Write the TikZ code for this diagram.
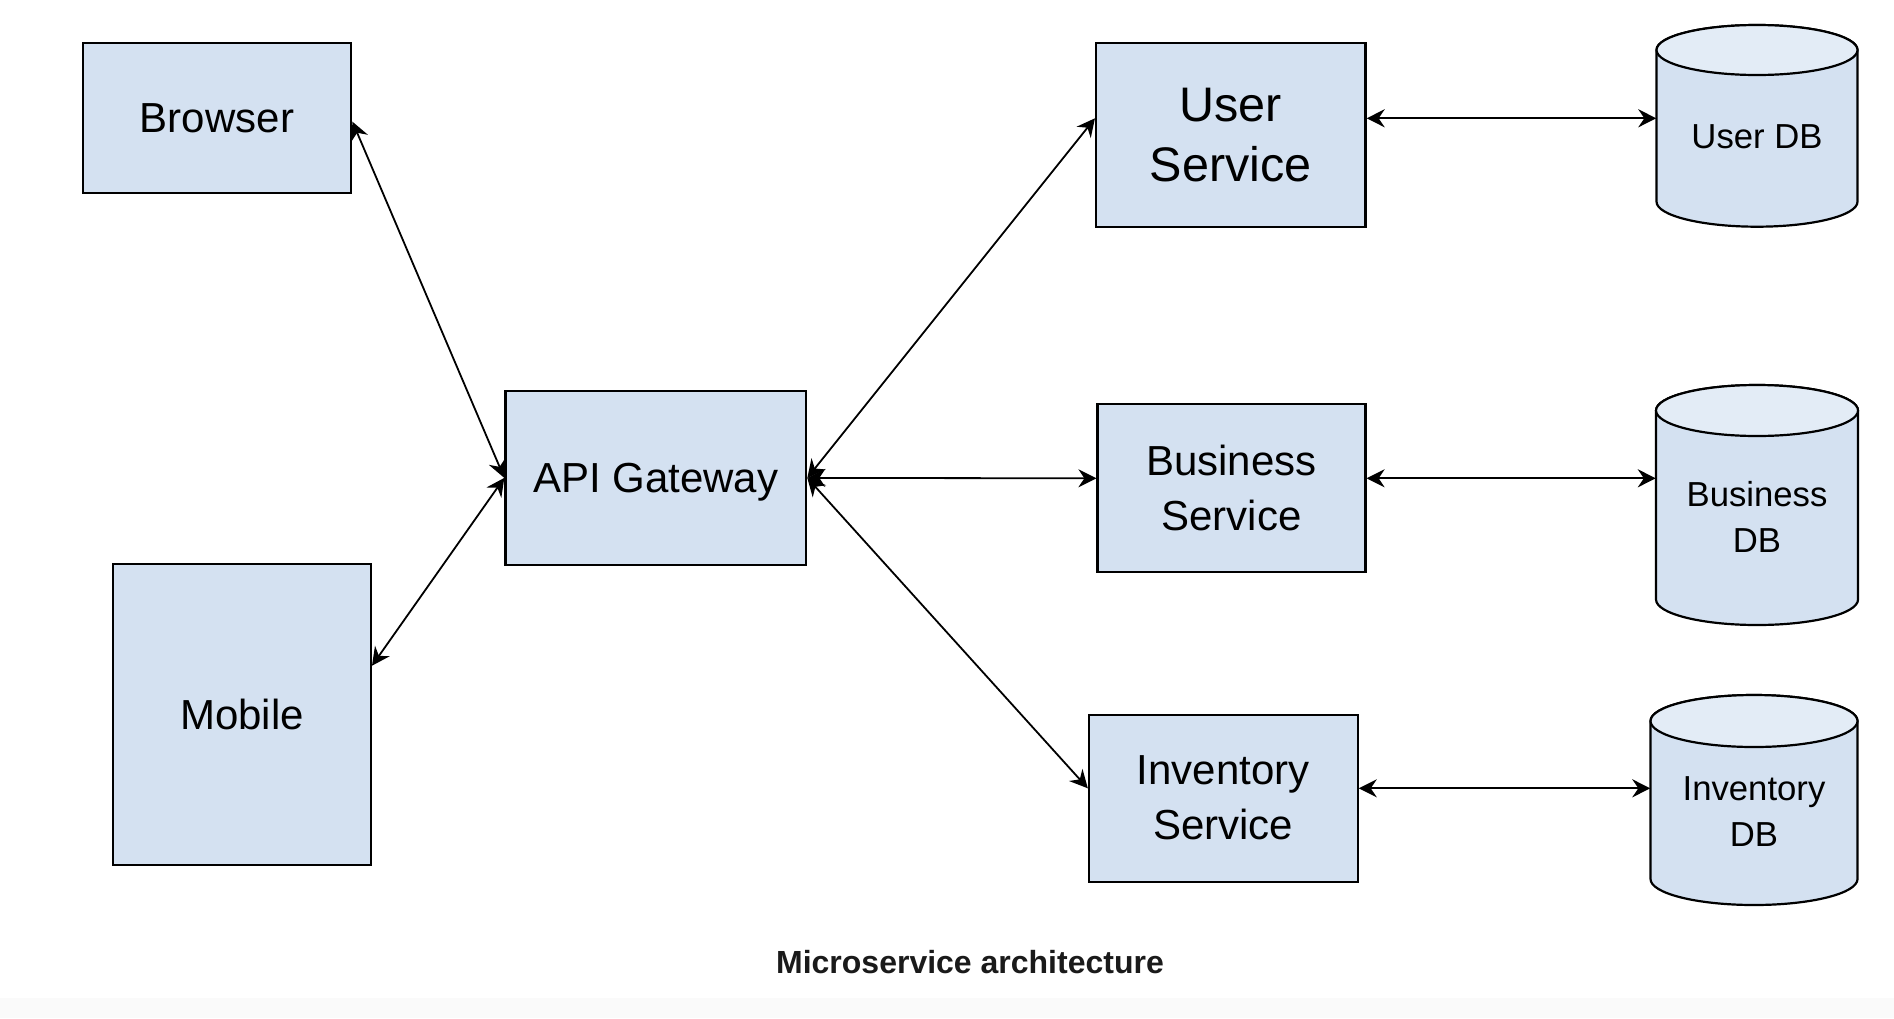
\documentclass[tikz,border=0pt]{standalone}
\usepackage{fontspec}
\setmainfont{Liberation Sans}
\usetikzlibrary{arrows.meta}
\definecolor{boxfill}{RGB}{212,225,241}
\definecolor{topfill}{RGB}{227,236,246}
\definecolor{titlecol}{RGB}{26,26,26}
\definecolor{bandcol}{RGB}{250,250,250}
\newcommand{\dbcylinder}[5]{% cx rx Tc Bc ry
  \filldraw[dbline, fill=boxfill] (#1-#2,#3) -- (#1-#2,#4)
     arc[start angle=180,end angle=360,x radius=#2pt,y radius=#5pt]
     -- (#1+#2,#3)
     arc[start angle=0,end angle=180,x radius=#2pt,y radius=#5pt] -- cycle;
  \filldraw[dbline, fill=topfill] (#1,#3) ellipse[x radius=#2pt, y radius=#5pt];}
\begin{document}
\begin{tikzpicture}[x=1pt,y=-1pt,
  box/.style={draw=black, line width=2.2pt, fill=boxfill, inner sep=0pt, align=center},
  lbl/.style={font=\fontsize{42}{55}\selectfont},
  biglbl/.style={font=\fontsize{48.5}{60}\selectfont},
  dbtext/.style={font=\fontsize{34.7}{46}\selectfont, align=center, inner sep=0pt},
  dbline/.style={draw=black, line width=2.2pt},
  conn/.style={draw=black, line width=1.8pt,
    {Stealth[length=18pt,width=18pt,inset=6pt]}-{Stealth[length=18pt,width=18pt,inset=6pt]}},
  titlestyle/.style={font=\fontsize{32}{38}\selectfont\bfseries, text=titlecol}
]
\useasboundingbox (0,0) rectangle (1894,1018);
\fill[bandcol] (0,998) rectangle (1894,1018);

% databases (shapes)
\dbcylinder{1757}{100.5}{50}{201.7}{25}
\dbcylinder{1757}{101}{410.5}{599.5}{25.5}
\dbcylinder{1754}{103.5}{721}{879}{26}

% boxes
\node[box, lbl, minimum width=268.7pt, minimum height=149.4pt] (browser) at (217,118) {Browser};
\node[box, lbl, minimum width=258pt, minimum height=301pt] (mobile) at (241.9,714.5) {Mobile};
\node[box, lbl, text depth=0pt, minimum width=300.8pt, minimum height=174.3pt] (api) at (655.8,477.9) {API Gateway};
\node[box, biglbl, minimum width=269.5pt, minimum height=183.4pt] (usvc) at (1230.8,135) {User\\Service};
\node[box, lbl, minimum width=268pt, minimum height=167.4pt] (bsvc) at (1231.5,488) {Business\\Service};
\node[box, lbl, minimum width=268.7pt, minimum height=167pt] (isvc) at (1223.3,798.2) {Inventory\\Service};

% database labels
\node[dbtext, minimum width=201pt] (udb) at (1757,137) {User DB};
\node[dbtext, minimum width=202pt] (bdb) at (1757,517) {Business\\DB};
\node[dbtext, minimum width=207pt] (idb) at (1754,811.5) {Inventory\\DB};

% connectors
\draw[conn] ([yshift=-3.7pt]browser.east) -- (api.west);
\draw[conn] ([yshift=48.8pt]mobile.east) -- (api.west);
\draw[conn] (api.east) -- ([yshift=16.7pt]usvc.west);
\draw[conn] (api.east) -- ([yshift=9.7pt]bsvc.west);
\draw[conn] (api.east) -- ([yshift=9.9pt]isvc.west);
\draw[conn] ([yshift=16.7pt]usvc.east) -- ([yshift=18.7pt]udb.west);
\draw[conn] ([yshift=9.7pt]bsvc.east) -- ([yshift=38.7pt]bdb.west);
\draw[conn] ([yshift=9.9pt]isvc.east) -- ([yshift=23.2pt]idb.west);

% title
\node[titlestyle] (title) at (970,962) {Microservice architecture};
\end{tikzpicture}
\end{document}
